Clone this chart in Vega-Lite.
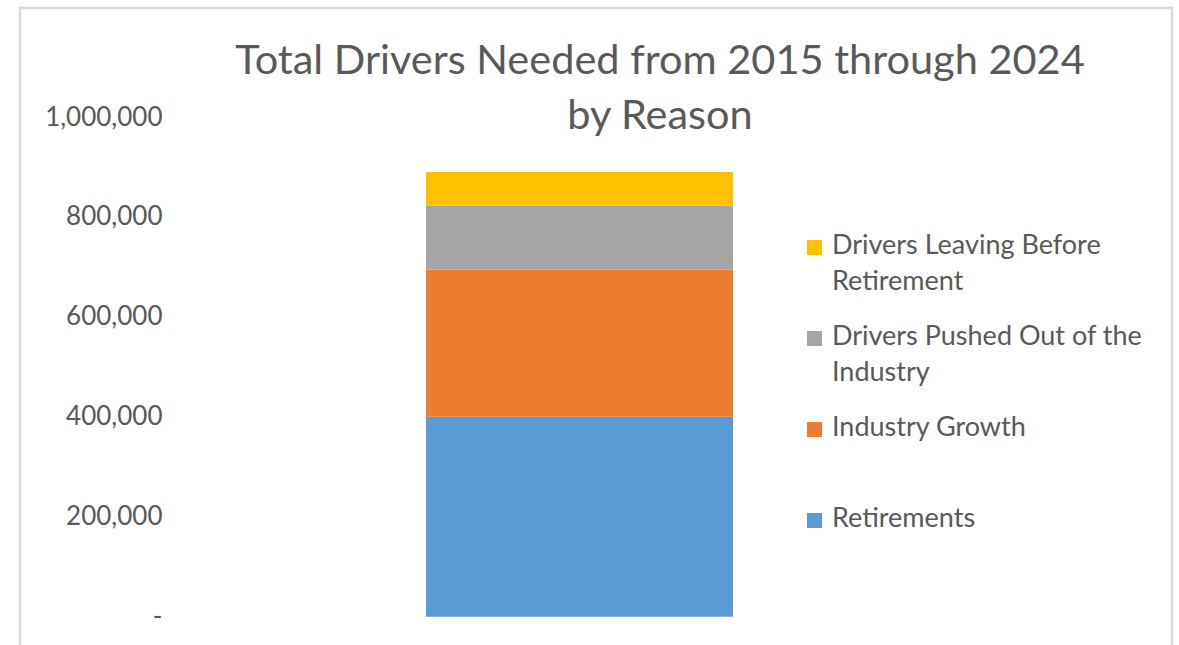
{
  "$schema": "https://vega.github.io/schema/vega-lite/v6.json",
  "width": 1152,
  "height": 637,
  "autosize": {"type": "none"},
  "padding": {"left": 20, "top": 8, "right": 7, "bottom": 0},
  "background": "white",
  "title": {
    "text": ["Total Drivers Needed from 2015 through 2024", "by Reason"],
    "font": "Lato",
    "fontSize": 41.5,
    "fontWeight": "normal",
    "color": "#595959",
    "lineHeight": 55,
    "anchor": "middle",
    "frame": "group",
    "baseline": "middle",
    "offset": 0,
    "dx": 64,
    "dy": 150
  },
  "data": {
    "values": [
      {"group": "All", "reason": "Retirements", "drivers": 400000},
      {"group": "All", "reason": "Industry Growth", "drivers": 295000},
      {"group": "All", "reason": "Drivers Pushed Out of the Industry", "drivers": 128000},
      {"group": "All", "reason": "Drivers Leaving Before Retirement", "drivers": 67000}
    ]
  },
  "mark": {"type": "bar"},
  "encoding": {
    "x": {
      "field": "group",
      "type": "nominal",
      "axis": null,
      "scale": {"paddingInner": 0.27337, "paddingOuter": 1, "align": 0.4805}
    },
    "y": {
      "field": "drivers",
      "type": "quantitative",
      "stack": "zero",
      "scale": {"domain": [-56634, 1218131], "nice": false, "zero": false},
      "axis": {
        "title": null,
        "values": [0, 200000, 400000, 600000, 800000, 1000000],
        "labelExpr": "datum.value == 0 ? '-\u2007' : format(datum.value, ',')",
        "domain": false,
        "ticks": false,
        "tickSize": 0,
        "grid": false,
        "labelPadding": 0,
        "offset": -142,
        "labelFont": "Lato",
        "labelFontSize": 26,
        "labelColor": "#595959",
        "labelAlign": "right",
        "labelBaseline": "middle"
      }
    },
    "order": {"field": "drivers", "sort": "descending"},
    "color": {
      "field": "reason",
      "type": "nominal",
      "scale": {
        "domain": ["Drivers Leaving Before Retirement", "Drivers Pushed Out of the Industry", "Industry Growth", "Retirements"],
        "range": ["#FFC000", "#A5A5A5", "#ED7D31", "#5B9BD5"]
      },
      "legend": {
        "title": null,
        "orient": "none",
        "legendX": 781,
        "legendY": 226,
        "symbolType": "square",
        "symbolSize": 225,
        "symbolStrokeWidth": 0,
        "symbolOpacity": 1,
        "labelOffset": 4,
        "labelFont": "Lato",
        "labelFontSize": 27,
        "labelColor": "#595959",
        "labelLimit": 400,
        "labelBaseline": "top",
        "rowPadding": 27,
        "labelExpr": "datum.label == 'Drivers Leaving Before Retirement' ? ['Drivers Leaving Before', 'Retirement'] : datum.label == 'Drivers Pushed Out of the Industry' ? ['Drivers Pushed Out of the', 'Industry'] : [datum.label, '\u00a0']",
        "encode": {"labels": {"update": {"dy": {"value": -15}, "lineHeight": {"value": 36}}}}
      }
    }
  },
  "config": {
    "view": {"stroke": "#D9D9D9", "strokeWidth": 2.5, "strokeDash": [1789, 1152, 637]},
    "font": "Lato"
  }
}
